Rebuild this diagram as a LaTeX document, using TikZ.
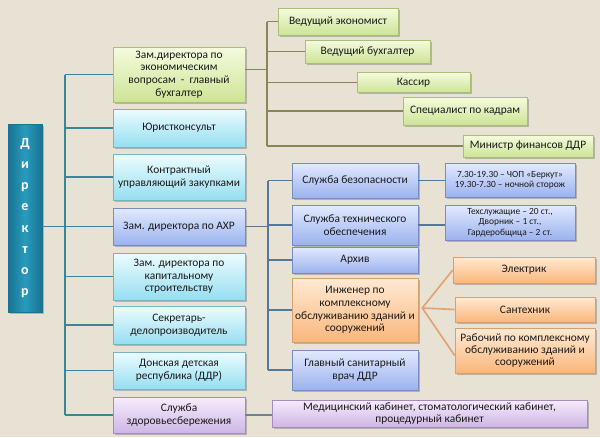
\documentclass[tikz,border=0pt]{standalone}
\usepackage{fontspec}
\setmainfont{Carlito}
\usetikzlibrary{shadows}
\definecolor{bgc}{RGB}{232,226,212}
\definecolor{txt}{RGB}{25,25,25}
\definecolor{tealln}{RGB}{55,135,150}
\definecolor{oliveln}{RGB}{135,135,85}
\definecolor{blueln}{RGB}{85,120,150}
\definecolor{orangeln}{RGB}{228,160,112}
\definecolor{greytl}{RGB}{110,130,145}
\definecolor{gtop}{RGB}{245,251,222}
\definecolor{gbot}{RGB}{205,228,150}
\definecolor{gbrd}{RGB}{170,190,120}
\definecolor{ctop}{RGB}{236,252,255}
\definecolor{cbot}{RGB}{150,222,240}
\definecolor{cbrd}{RGB}{120,180,200}
\definecolor{btop}{RGB}{226,234,255}
\definecolor{bbot}{RGB}{155,178,238}
\definecolor{bbrd}{RGB}{120,140,195}
\definecolor{otop}{RGB}{255,234,212}
\definecolor{obot}{RGB}{250,182,122}
\definecolor{obrd}{RGB}{215,160,110}
\definecolor{ptop}{RGB}{246,236,252}
\definecolor{pbot}{RGB}{206,182,230}
\definecolor{pbrd}{RGB}{165,140,190}
\definecolor{dirc}{RGB}{40,155,190}
\definecolor{dird}{RGB}{25,115,145}
\tikzset{
  box/.style={rectangle, align=center, inner sep=1pt, text=txt,
    font=\fontsize{11.4}{12.6}\selectfont, line width=0.6pt,
    drop shadow={shadow xshift=1.5pt, shadow yshift=-1.5pt, fill=black!45, opacity=0.55}},
  gbox/.style={box, draw=gbrd, top color=gtop, bottom color=gbot},
  cbox/.style={box, draw=cbrd, top color=ctop, bottom color=cbot},
  bbox/.style={box, draw=bbrd, top color=btop, bottom color=bbot},
  obox/.style={box, draw=obrd, top color=otop, bottom color=obot},
  pbox/.style={box, draw=pbrd, top color=ptop, bottom color=pbot},
  smallbox/.style={bbox, font=\fontsize{9.4}{10.6}\selectfont},
  tl/.style={draw=tealln, line width=1.6pt},
  ol/.style={draw=oliveln, line width=1.8pt},
  bl/.style={draw=blueln, line width=1.6pt},
  orl/.style={draw=orangeln, line width=1.6pt},
  gl/.style={draw=greytl, line width=1.6pt},
}
\begin{document}
\begin{tikzpicture}[x=1pt,y=-1pt]
\fill[bgc] (0,0) rectangle (600,437);
\useasboundingbox (0,0) rectangle (600,437);

% director
\node[rectangle, minimum width=34pt, minimum height=188pt, left color=dird, right color=dird, middle color=dirc, draw=dird, line width=0.6pt,
  drop shadow={shadow xshift=1.5pt, shadow yshift=-1.5pt, fill=black!45, opacity=0.55},
  text=white, align=center, font=\bfseries\fontsize{14}{21.2}\selectfont] (dir) at (25,218)
  {Д\\и\\р\\е\\к\\т\\о\\р};

% left column
\node[gbox, minimum width=132pt, minimum height=55pt] (zeco) at (179,74.5) {Зам.директора по\\экономическим\\вопросам \ - \ главный\\бухгалтер};
\node[cbox, minimum width=132pt, minimum height=38pt] (yur) at (179,128) {Юристконсульт};
\node[cbox, minimum width=132pt, minimum height=46pt] (kontr) at (179,177) {Контрактный\\управляющий закупками};
\node[bbox, minimum width=132pt, minimum height=37pt] (axr) at (179,226.5) {Зам. директора по АХР};
\node[cbox, minimum width=132pt, minimum height=47pt] (kap) at (179,276.5) {Зам. директора по\\капитальному\\строительству};
\node[cbox, minimum width=132pt, minimum height=38pt] (sekr) at (179,325) {Секретарь-\\делопроизводитель};
\node[cbox, minimum width=132pt, minimum height=37pt] (don) at (179,370.5) {Донская детская\\республика (ДДР)};
\node[pbox, minimum width=132pt, minimum height=36pt] (zdor) at (179,415) {Служба\\здоровьесбережения};

% green column
\node[gbox, minimum width=120pt, minimum height=27pt] (ve) at (338,21.5) {Ведущий экономист};
\node[gbox, minimum width=125pt, minimum height=23pt] (vb) at (367.5,51.5) {Ведущий бухгалтер};
\node[gbox, minimum width=113pt, minimum height=20pt] (kas) at (413.5,82.5) {Кассир};
\node[gbox, minimum width=124pt, minimum height=28pt] (spec) at (465,111) {Специалист по кадрам};
\node[gbox, minimum width=130pt, minimum height=22pt] (minf) at (528,146) {Министр финансов ДДР};

% middle column
\node[bbox, minimum width=126pt, minimum height=35pt] (sb) at (355,180.5) {Служба безопасности};
\node[bbox, minimum width=126pt, minimum height=40pt] (ste) at (355,225) {Служба технического\\обеспечения};
\node[bbox, minimum width=126pt, minimum height=26pt] (arh) at (355,260) {Архив};
\node[obox, minimum width=126pt, minimum height=64pt] (ing) at (355,310) {Инженер по\\комплексному\\обслуживанию зданий и\\сооружений};
\node[bbox, minimum width=126pt, minimum height=40pt] (gsv) at (355,370) {Главный санитарный\\врач ДДР};

% right column
\node[smallbox, minimum width=130pt, minimum height=34pt, font=\fontsize{9.4}{9.8}\selectfont] (r1) at (510,180) {7.30-19.30 – ЧОП «Беркут»\\19.30-7.30 – ночной сторож};
\node[smallbox, minimum width=130pt, minimum height=35pt] (r2) at (510,222.5) {Техслужащие – 20 ст.,\\Дворник – 1 ст.,\\Гардеробщица – 2 ст.};
\node[obox, minimum width=142pt, minimum height=26pt] (el) at (524,270) {Электрик};
\node[obox, minimum width=140pt, minimum height=25pt] (san) at (525,309.5) {Сантехник};
\node[obox, minimum width=140pt, minimum height=45pt, font=\fontsize{11.4}{11.8}\selectfont] (rab) at (525,350.5) {Рабочий по комплексному\\обслуживанию зданий и\\сооружений};
\node[pbox, minimum width=315pt, minimum height=27pt, font=\fontsize{11.4}{11.8}\selectfont] (med) at (429.5,413.5) {Медицинский кабинет, стоматологический кабинет,\\процедурный кабинет};

% trunk coordinates
\coordinate (lt) at (65,0);
\coordinate (gt) at (267,0);
\coordinate (bt) at (268,0);

% left trunk
\draw[tl] (lt |- zeco.west) -- (lt |- zdor.west);
\draw[tl] (dir.east |- axr.west) -- (lt |- axr.west);
\foreach \n in {zeco,yur,kontr,axr,kap,sekr,don,zdor}
  \draw[tl] (lt |- \n.west) -- (\n.west);

% green trunk
\coordinate (ze) at ([yshift=5pt]zeco.east);
\draw[ol] (gt |- ve.west) -- (gt |- minf.west);
\draw[ol] (ze) -- (gt |- ze);
\foreach \n in {ve,vb,kas,spec,minf}
  \draw[ol] (gt |- \n.west) -- (\n.west);

% blue trunk
\draw[bl] (bt |- sb.west) -- (bt |- gsv.west);
\draw[bl] (axr.east) -- (bt |- axr.east);
\foreach \n in {sb,ste,arh,ing,gsv}
  \draw[bl] (bt |- \n.west) -- (\n.west);
\draw[bl] (sb.east) -- (sb.east -| r1.west);
\draw[bl] (ste.east) -- (ste.east -| r2.west);

% orange fan
\coordinate (fan) at ([xshift=4pt,yshift=2pt]ing.east);
\draw[orl] (fan) -- (el.west);
\draw[orl] (fan) -- (san.west);
\draw[orl] (fan) -- ([yshift=-5pt]rab.west);

% health
\draw[gl] (zdor.east) -- (zdor.east -| med.west);
\end{tikzpicture}
\end{document}
